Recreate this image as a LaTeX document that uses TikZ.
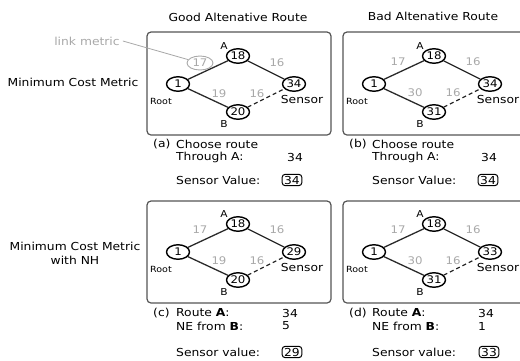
\documentclass[tikz,border=0pt]{standalone}
\usepackage{fontspec}
\setmainfont[FakeStretch=1.12]{DejaVu Sans}
\usetikzlibrary{shapes.geometric}
\definecolor{edgec}{HTML}{2A2A2A}
\definecolor{greyt}{HTML}{A8A8A8}
\definecolor{boxc}{HTML}{555555}
\begin{document}
\begin{tikzpicture}[x=1pt,y=-1pt,
  nd/.style={ellipse, draw=black, line width=1.4pt, minimum width=23pt, minimum height=14.5pt, inner sep=0pt, font=\fontsize{10.5}{11}\selectfont},
  ed/.style={draw=edgec, line width=1.3pt},
  ded/.style={ed, dash pattern=on 4pt off 3pt},
  met/.style={text=greyt, inner sep=0pt, font=\fontsize{10.5}{11}\selectfont},
  metc/.style={met, ellipse, draw=greyt, line width=0.9pt, minimum width=26pt, minimum height=14pt},
  lab/.style={inner sep=0pt, font=\fontsize{9.5}{10}\selectfont},
  rootl/.style={inner sep=0pt, font=\fontsize{8.5}{9}\selectfont},
  sens/.style={inner sep=0pt, font=\fontsize{11}{12}\selectfont},
  panel/.style={draw=boxc, line width=1.2pt, rounded corners=4pt},
  txt/.style={font=\fontsize{11}{14}\selectfont, inner sep=0pt},
  valbox/.style={draw=black, line width=1pt, rounded corners=3pt, inner xsep=2pt, inner ysep=1.5pt, font=\fontsize{11}{12}\selectfont},
]
\useasboundingbox (0,0) rectangle (520,360);
\clip (0,0) rectangle (520,360);

% titles
\node[txt] (t1) at (238,17) {Good Altenative Route};
\node[txt] (t2) at (433,16) {Bad Altenative Route};
\node[txt] (r1) at (73,82) {Minimum Cost Metric};
\node[txt, align=center] (r2) at (75,253) {Minimum Cost Metric\\with NH};

% ---------- panel a ----------
\draw[panel] (147,32) rectangle (331,135);
\node[nd] (aR) at (178,84) {1};
\node[nd] (aA) at (238,56) {18};
\node[nd] (aS) at (294,84) {34};
\node[nd] (aB) at (238,112) {20};
\draw[ed] (aR) -- (aA);
\draw[ed] (aA) -- (aS);
\draw[ed] (aR) -- (aB);
\draw[ded] (aB) -- (aS);
\node[lab] (aLA) at (224,46) {A};
\node[lab] (aLB) at (224,124) {B};
\node[rootl] (aRoot) at (161,101) {Root};
\node[sens] (aSens) at (302,99) {Sensor};
\node[metc] (a17) at (200,63) {17};
\node[met] (a16u) at (277,63) {16};
\node[met] (a19) at (219,94) {19};
\node[met] (a16l) at (257,94) {16};
\node[txt, text=greyt] (lm) at (87,41) {link metric};
\draw[greyt, line width=0.8pt] ([xshift=3pt]lm.east) -- (a17);

% ---------- panel b ----------
\begin{scope}[shift={(196,0)}]
\draw[panel] (147,32) rectangle (335,135);
\node[nd] (bR) at (178,84) {1};
\node[nd] (bA) at (238,56) {18};
\node[nd] (bS) at (294,84) {34};
\node[nd] (bB) at (238,112) {31};
\draw[ed] (bR) -- (bA);
\draw[ed] (bA) -- (bS);
\draw[ed] (bR) -- (bB);
\draw[ded] (bB) -- (bS);
\node[lab] (bLA) at (224,46) {A};
\node[lab] (bLB) at (224,124) {B};
\node[rootl] (bRoot) at (161,101) {Root};
\node[sens] (bSens) at (302,99) {Sensor};
\node[met] (b17) at (202,62) {17};
\node[met] (b16u) at (277,62) {16};
\node[met] (b30) at (219,93) {30};
\node[met] (b16l) at (257,93) {16};
\end{scope}

% ---------- panel c ----------
\begin{scope}[shift={(0,168)}]
\draw[panel] (147,33) rectangle (331,135);
\node[nd] (cR) at (178,84) {1};
\node[nd] (cA) at (238,56) {18};
\node[nd] (cS) at (294,84) {29};
\node[nd] (cB) at (238,112) {20};
\draw[ed] (cR) -- (cA);
\draw[ed] (cA) -- (cS);
\draw[ed] (cR) -- (cB);
\draw[ded] (cB) -- (cS);
\node[lab] (cLA) at (224,46) {A};
\node[lab] (cLB) at (224,124) {B};
\node[rootl] (cRoot) at (161,101) {Root};
\node[sens] (cSens) at (302,99) {Sensor};
\node[met] (c17) at (200,62) {17};
\node[met] (c16u) at (277,62) {16};
\node[met] (c19) at (219,93) {19};
\node[met] (c16l) at (257,93) {16};
\end{scope}

% ---------- panel d ----------
\begin{scope}[shift={(196,168)}]
\draw[panel] (147,33) rectangle (335,135);
\node[nd] (dR) at (178,84) {1};
\node[nd] (dA) at (238,56) {18};
\node[nd] (dS) at (294,84) {33};
\node[nd] (dB) at (238,112) {31};
\draw[ed] (dR) -- (dA);
\draw[ed] (dA) -- (dS);
\draw[ed] (dR) -- (dB);
\draw[ded] (dB) -- (dS);
\node[lab] (dLA) at (224,46) {A};
\node[lab] (dLB) at (224,124) {B};
\node[rootl] (dRoot) at (161,101) {Root};
\node[sens] (dSens) at (302,99) {Sensor};
\node[met] (d17) at (202,62) {17};
\node[met] (d16u) at (277,62) {16};
\node[met] (d30) at (219,93) {30};
\node[met] (d16l) at (257,93) {16};
\end{scope}

% ---------- captions ----------
\node[txt, anchor=west] (ca1) at (153,144) {(a)};
\node[txt, anchor=west] (ca2) at (176,144) {Choose route};
\node[txt, anchor=west] (ca3) at (176,157) {Through A:};
\node[txt, anchor=west] (ca4) at (287,157) {34};
\node[txt, anchor=west] (ca5) at (176,180) {Sensor Value:};
\node[valbox] (ca6) at (292,180) {34};

\node[txt, anchor=west] (cb1) at (349,144) {(b)};
\node[txt, anchor=west] (cb2) at (372,144) {Choose route};
\node[txt, anchor=west] (cb3) at (372,157) {Through A:};
\node[txt, anchor=west] (cb4) at (481,157) {34};
\node[txt, anchor=west] (cb5) at (372,180) {Sensor Value:};
\node[valbox] (cb6) at (488,180) {34};

\node[txt, anchor=west] (cc1) at (153,313) {(c)};
\node[txt, anchor=west] (cc2) at (176,313) {Route \textbf{A}:};
\node[txt, anchor=west] (cc3) at (176,326) {NE from \textbf{B}:};
\node[txt, anchor=west] (cc4) at (282,313) {34};
\node[txt, anchor=west] (cc5) at (282,326) {5};
\node[txt, anchor=west] (cc6) at (176,352) {Sensor value:};
\node[valbox] (cc7) at (292,352) {29};

\node[txt, anchor=west] (cd1) at (349,313) {(d)};
\node[txt, anchor=west] (cd2) at (372,313) {Route \textbf{A}:};
\node[txt, anchor=west] (cd3) at (372,326) {NE from \textbf{B}:};
\node[txt, anchor=west] (cd4) at (478,313) {34};
\node[txt, anchor=west] (cd5) at (478,326) {1};
\node[txt, anchor=west] (cd6) at (372,352) {Sensor value:};
\node[valbox] (cd7) at (489,352) {33};
\end{tikzpicture}
\end{document}
